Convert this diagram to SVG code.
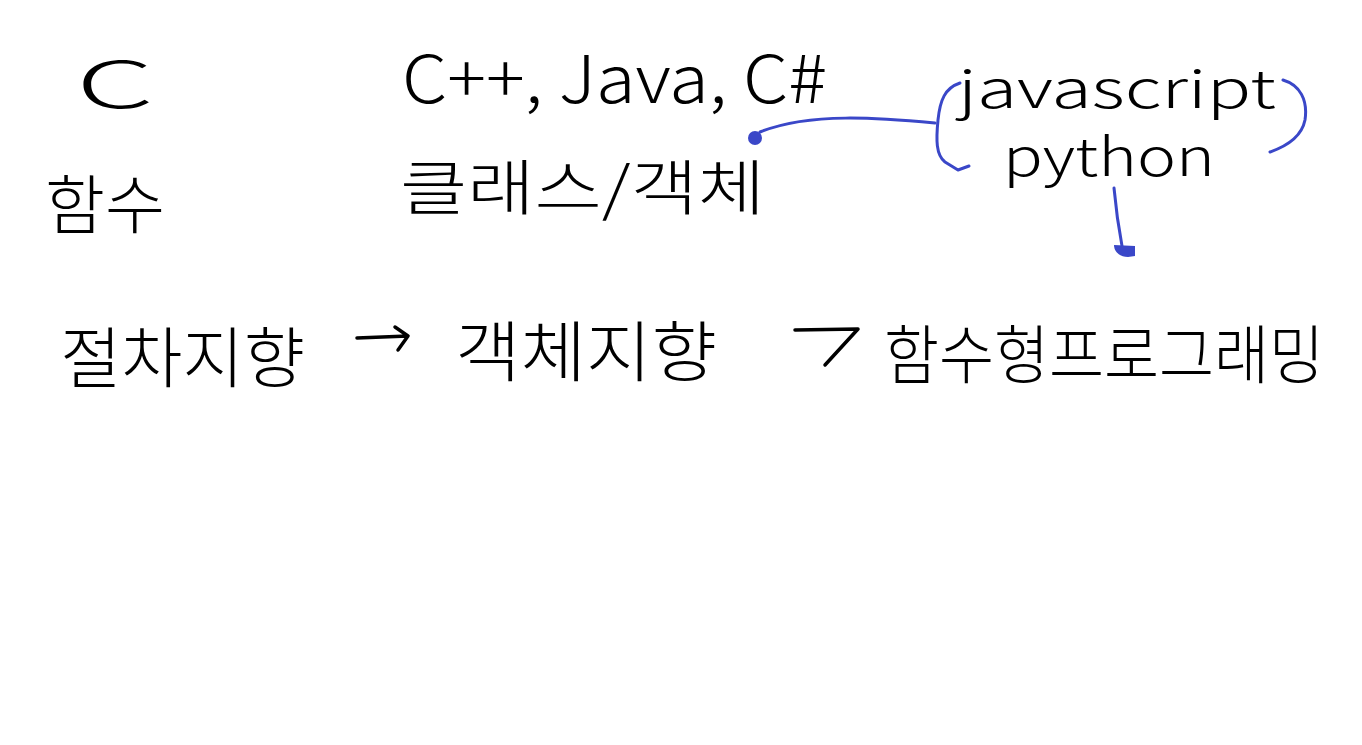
<svg xmlns="http://www.w3.org/2000/svg" width="1362" height="745" viewBox="0 0 1362 745">
<style>
.t{font-family:"Noto Sans CJK KR","Liberation Sans",sans-serif;fill:#000;font-weight:300}
.k{stroke:#000;stroke-width:3.5;fill:none;stroke-linecap:round;stroke-linejoin:round}
.b{stroke:#3a47c8;stroke-width:3;fill:none;stroke-linecap:round;stroke-linejoin:round}
</style>
<rect width="1362" height="745" fill="#fff"/>
<g id="node-c"><text class="t" x="76" y="108" font-size="64" textLength="78" lengthAdjust="spacingAndGlyphs">C</text></g>
<g id="node-cpp"><text class="t" x="402" y="103" font-size="66" textLength="425" lengthAdjust="spacingAndGlyphs">C++, Java, C#</text></g>
<g id="node-func"><text class="t" x="45" y="228" font-size="64" textLength="120" lengthAdjust="spacingAndGlyphs">함수</text></g>
<g id="node-class"><text class="t" x="400" y="210" font-size="60" textLength="365" lengthAdjust="spacingAndGlyphs">클래스/객체</text></g>
<g id="node-js">
<text class="t" x="958" y="108" font-size="52" textLength="318" lengthAdjust="spacingAndGlyphs">javascript</text>
<text class="t" x="1003" y="176" font-size="52" textLength="212" lengthAdjust="spacingAndGlyphs">python</text>
<path class="b" d="M960,83 C945,88 940,100 938,120 C936,140 936,155 945,162 L958,170 L969,166"/>
<path class="b" d="M1283,80 C1300,85 1308,100 1305,120 C1302,135 1290,145 1270,152"/>
</g>
<g id="node-proc"><text class="t" x="60" y="382" font-size="66" textLength="245" lengthAdjust="spacingAndGlyphs">절차지향</text></g>
<g id="node-oop"><text class="t" x="455" y="376" font-size="66" textLength="262" lengthAdjust="spacingAndGlyphs">객체지향</text></g>
<g id="node-fp"><text class="t" x="884" y="378" font-size="64" textLength="440" lengthAdjust="spacingAndGlyphs">함수형프로그래밍</text></g>
<g id="connectors">
<path class="b" d="M935,123 C880,118 810,112 760,132"/>
<circle cx="755" cy="138" r="7" fill="#3a47c8"/>
<path class="b" d="M1114,188 C1116,210 1119,230 1122,246"/>
<path d="M1114,245 C1114,252 1120,257 1128,257 L1135,256 L1135,246 Z" fill="#3a47c8"/>
<path class="k" d="M357,338 L408,336 M395,327 L408,336 L398,350"/>
<path class="k" d="M795,330 L858,329 L825,365"/>
</g>
</svg>
